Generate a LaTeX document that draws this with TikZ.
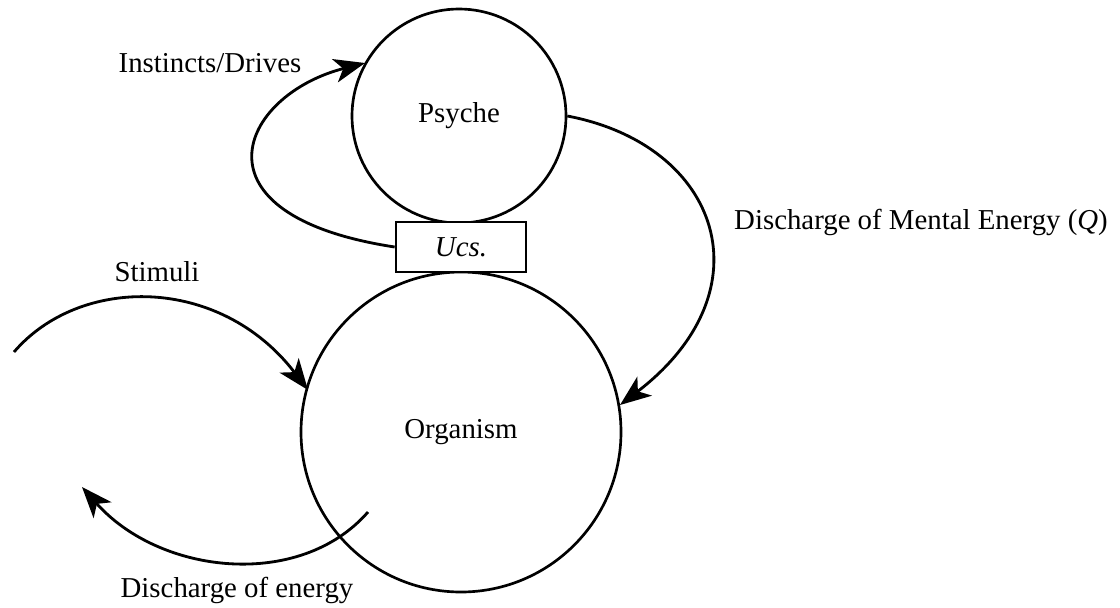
\documentclass[tikz,border=0pt]{standalone}
\usepackage{fontspec}
\setmainfont{Liberation Serif}
\usetikzlibrary{arrows.meta}
\begin{document}
\begin{tikzpicture}[x=0.025cm,y=-0.025cm,
    flow/.style={line width=2pt,-{Stealth[length=22pt,width=17pt,inset=6pt]}},
    every node/.style={font=\fontsize{20.5}{24}\selectfont}]
                \useasboundingbox (0,0) rectangle (1120,607);
                \node[draw,circle,line width=1.9pt,minimum size=214*0.025cm] (psyche) at (459,116) {Psyche};
                \node[draw,circle,line width=1.9pt,minimum size=320*0.025cm] (organism) at (461,432) {Organism};
                \node[draw,fill=white,line width=1.9pt,minimum width=130*0.025cm,minimum height=50*0.025cm] (ucs) at (461,247) {\itshape Ucs.};
                \coordinate (stimfrom) at (14,352);
                \coordinate (dischto) at (82,487);
                \coordinate (dischfrom) at (368,512);
                \draw[flow] (ucs.west) .. controls (185,215) and (240,95) .. (365,63);
                \draw[flow] (psyche.east) .. controls (720,145) and (770,290) .. (620,405);
                \draw[flow] (stimfrom) .. controls (80,275) and (220,275) .. (308,390);
                \draw[flow] (dischfrom) .. controls (300,590) and (160,575) .. (dischto);
                \node (instincts) at (210,63) {Instincts/Drives};
                \node (mental) at (921,222) {Discharge of Mental Energy (\textit{Q})};
                \node (stimuli) at (157,272) {Stimuli};
                \node (energy) at (237,590) {Discharge of energy};
            \end{tikzpicture}
\end{document}
